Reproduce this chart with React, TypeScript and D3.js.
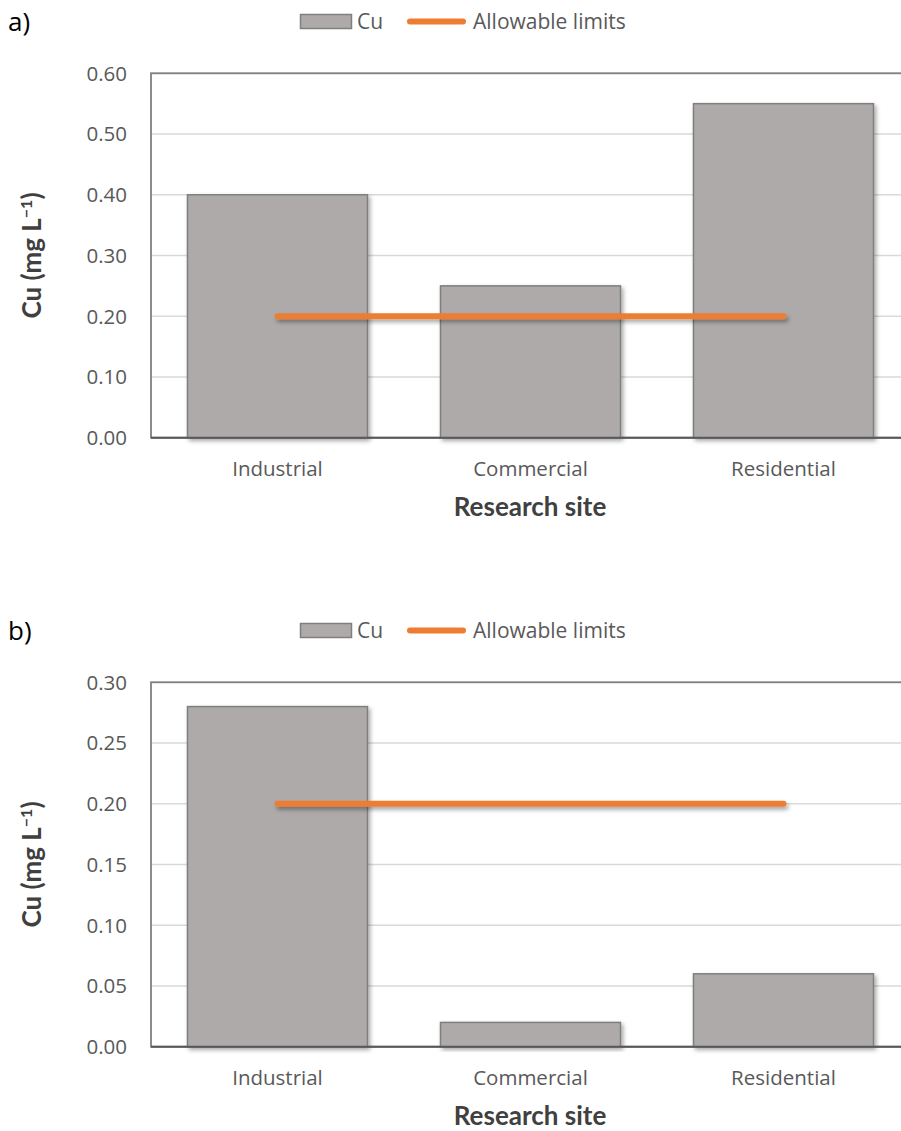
import React from "react";
import * as d3 from "d3";

const categories = ["Industrial", "Commercial", "Residential"];
const cuA = [0.4, 0.25, 0.55];
const cuB = [0.28, 0.02, 0.06];
const limitA = [0.2, 0.2, 0.2];
const limitB = [0.2, 0.2, 0.2];
const ticksA = [0, 0.1, 0.2, 0.3, 0.4, 0.5, 0.6];
const ticksB = [0, 0.05, 0.1, 0.15, 0.2, 0.25, 0.3];
const panelLabels = ["a)", "b)"];
const seriesNames = ["Cu", "Allowable limits"];
const xTitle = "Research site";

const W = 901;
const H = 1131;
const BAR_FILL = "#AEAAAA";
const BAR_STROKE = "#7F7F7F";
const ORANGE = "#ED7D31";
const TICK_FONT = "'Open Sans', 'Noto Sans', sans-serif";
const TITLE_FONT = "Lato, 'Open Sans', sans-serif";

function Panel({ dy, values, limits, ticks, yMax, label, id }: any) {
  const left = 151;
  const right = 910;
  const top = 73.3;
  const bottom = 437.7;
  const x = d3.scaleBand<string>().domain(categories).range([left, right]).paddingInner(0.2885).paddingOuter(0.14425);
  const y = d3.scaleLinear().domain([0, yMax]).range([bottom, top]);
  const line = d3
    .line<number>()
    .x((_, i) => (x(categories[i]) as number) + x.bandwidth() / 2)
    .y((d) => y(d));
  const fmt = d3.format(".2f");
  return (
    <g transform={`translate(0,${dy})`}>
      <text x={8} y={31} fontFamily={TICK_FONT} fontSize={26} fill="#000">
        {label}
      </text>
      {/* legend */}
      <rect x={300.5} y={14.5} width={51} height={14} fill={BAR_FILL} stroke={BAR_STROKE} strokeWidth={1.5} />
      <text x={357} y={28.5} fontFamily={TICK_FONT} fontSize={21} fill="#595959">
        {seriesNames[0]}
      </text>
      <line x1={410} x2={463} y1={21.5} y2={21.5} stroke={ORANGE} strokeWidth={6} strokeLinecap="round" />
      <text x={473} y={28.5} fontFamily={TICK_FONT} fontSize={21} fill="#595959">
        {seriesNames[1]}
      </text>
      {/* gridlines */}
      {ticks.map((t: number) => (
        <line key={t} x1={left} x2={right} y1={y(t)} y2={y(t)} stroke="#D9D9D9" strokeWidth={1.5} />
      ))}
      {/* plot border */}
      <rect x={left} y={top} width={right - left} height={bottom - top} fill="none" stroke="#808080" strokeWidth={1.8} />
      {/* bars */}
      {values.map((v: number, i: number) => (
        <rect
          key={i}
          x={x(categories[i])}
          y={y(v)}
          width={x.bandwidth()}
          height={y(0) - y(v)}
          fill={BAR_FILL}
          stroke={BAR_STROKE}
          strokeWidth={1.5}
          filter={`url(#shadow${id})`}
        />
      ))}
      <line x1={left} x2={right} y1={bottom} y2={bottom} stroke="#595959" strokeWidth={2} />
      {/* limit line */}
      <path d={line(limits) || ""} fill="none" stroke={ORANGE} strokeWidth={6} strokeLinecap="round" filter={`url(#lshadow${id})`} />
      {/* y ticks */}
      {ticks.map((t: number) => (
        <text key={t} x={127} y={y(t)} dy="0.36em" textAnchor="end" fontFamily={TICK_FONT} fontSize={20.5} fill="#595959">
          {fmt(t)}
        </text>
      ))}
      {/* x labels */}
      {categories.map((c) => (
        <text key={c} x={(x(c) as number) + x.bandwidth() / 2} y={476} textAnchor="middle" fontFamily={TICK_FONT} fontSize={20.5} fill="#595959">
          {c}
        </text>
      ))}
      <text x={530} y={515.5} textAnchor="middle" fontFamily={TITLE_FONT} fontWeight="bold" fontSize={26} fill="#404040">
        {xTitle}
      </text>
      <text
        transform={`translate(41,${(top + bottom) / 2}) rotate(-90)`}
        textAnchor="middle"
        fontFamily={TITLE_FONT}
        fontWeight="bold"
        fontSize={26}
        fill="#404040"
      >
        Cu (mg L<tspan dy={-9} fontSize={16}>−1</tspan>
        <tspan dy={9}>)</tspan>
      </text>
    </g>
  );
}

export default function App() {
  return (
    <svg width={W} height={H} style={{ position: "absolute", left: 0, top: 0, background: "#fff" }}>
      <defs>
        {[0, 1].map((i) => (
          <filter key={i} id={`shadow${i}`} x="-10%" y="-10%" width="130%" height="130%">
            <feDropShadow dx={2} dy={2.5} stdDeviation={2} floodColor="#000" floodOpacity={0.35} />
          </filter>
        ))}
        {[0, 1].map((i) => (
          <filter key={i} id={`lshadow${i}`} filterUnits="userSpaceOnUse" x={0} y={0} width={W} height={600}>
            <feDropShadow dx={2} dy={3} stdDeviation={2} floodColor="#000" floodOpacity={0.35} />
          </filter>
        ))}
      </defs>
      <rect x={0} y={0} width={W} height={H} fill="#fff" />
      <Panel dy={0} values={cuA} limits={limitA} ticks={ticksA} yMax={0.6} label={panelLabels[0]} id={0} />
      <Panel dy={609} values={cuB} limits={limitB} ticks={ticksB} yMax={0.3} label={panelLabels[1]} id={1} />
    </svg>
  );
}
